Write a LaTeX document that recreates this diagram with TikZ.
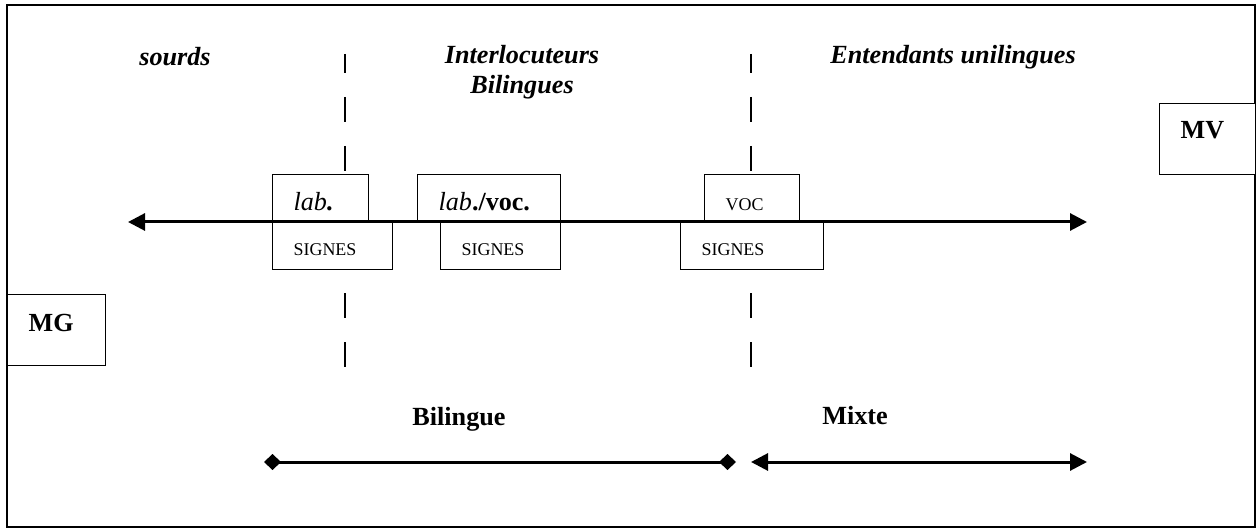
\documentclass[tikz,border=0pt]{standalone}
\usepackage{fontspec}
\setmainfont{Liberation Serif}
\usetikzlibrary{arrows.meta}
\tikzset{
  big/.style={font=\fontsize{26.2}{30}\selectfont},
  small/.style={font=\fontsize{18}{21}\selectfont},
  boxed/.style={draw, line width=1.3bp, fill=white, anchor=north west, align=left,
    inner xsep=21bp, inner ysep=0pt},
  topbox/.style={boxed, big, text height=36bp, text depth=12bp, minimum height=48bp},
  botbox/.style={boxed, small, text height=33bp, text depth=14bp, minimum height=47bp},
  sidebox/.style={boxed, big, minimum height=71bp},
  divider/.style={line width=1.2bp, dash pattern=on 25bp off 24bp, dash phase=6bp},
  axisline/.style={line width=3bp, {Triangle[length=17bp,width=17bp]}-{Triangle[length=17bp,width=17bp]}},
  spanline/.style={line width=3bp, {Diamond[length=17bp,width=16bp]}-{Diamond[length=17bp,width=16bp]}},
  toptitle/.style={font=\fontsize{26.3}{30}\selectfont\bfseries\itshape, align=center},
  rangelabel/.style={font=\fontsize{26.3}{30}\selectfont\bfseries}
}
\begin{document}
\begin{tikzpicture}[x=1bp, y=-1bp]
\useasboundingbox (0,0) rectangle (1259,532);
\draw[line width=2bp] (7,5) rectangle (1255,527);
% dividers
\coordinate (d1t) at (345,54); \coordinate (d1b) at (345,367);
\coordinate (d2t) at (751,54); \coordinate (d2b) at (751,367);
\draw[divider] (d1t) -- (d1b);
\draw[divider] (d2t) -- (d2b);
% titles
\node[toptitle] (sourds) at (175,57) {sourds};
\node[toptitle] (inter) at (522,72) {Interlocuteurs\\Bilingues};
\node[toptitle] (entend) at (953,57) {Entendants unilingues};
% boxes
\node[topbox, text width=54bp] (lab) at (272,174) {\itshape lab\textbf{.}};
\node[botbox, text width=78bp] (s1) at (272,222) {SIGNES};
\node[topbox, text width=101bp] (labvoc) at (417,174) {\itshape lab\textbf{\upshape./voc.}};
\node[botbox, text width=78bp] (s2) at (440,222) {SIGNES};
\node[topbox, small, text width=53bp] (voc) at (704,174) {VOC};
\node[botbox, text width=101bp] (s3) at (680,222) {SIGNES};
\node[sidebox, text width=56bp, text height=37bp, text depth=34bp] (mg) at (7,294) {\textbf{MG}};
\node[sidebox, text width=54bp, text height=35bp, text depth=36bp] (mv) at (1159,103) {\textbf{MV}};
% axis
\coordinate (axL) at (128,222); \coordinate (axR) at (1087,222);
\draw[axisline] (axL) -- (axR);
% ranges
\node[rangelabel] (bil) at (459,419) {Bilingue};
\node[rangelabel] (mix) at (855,416) {Mixte};
\coordinate (bL) at (264,462); \coordinate (bR) at (736,462);
\coordinate (mL) at (751,462); \coordinate (mR) at (1087,462);
\draw[spanline] (bL) -- (bR);
\draw[axisline] (mL) -- (mR);
\end{tikzpicture}
\end{document}
